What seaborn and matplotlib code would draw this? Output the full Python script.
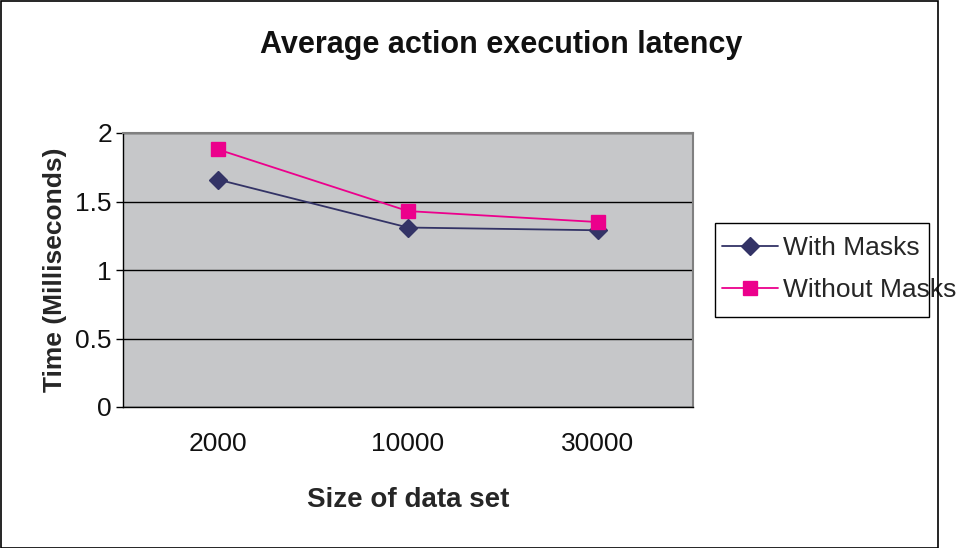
import matplotlib
matplotlib.use("Agg")
import matplotlib.pyplot as plt
from matplotlib.patches import Rectangle
import numpy as np
import pandas as pd
import seaborn as sns

# values
sizes = ["2000", "10000", "30000"]
with_masks = [1.66, 1.31, 1.29]
without_masks = [1.88, 1.43, 1.35]
series = ["With Masks", "Without Masks"]

df = pd.DataFrame({
    "size": sizes * 2,
    "time": with_masks + without_masks,
    "series": [series[0]] * 3 + [series[1]] * 3,
})

sns.set_style("white")
plt.rcParams["font.family"] = ["Liberation Sans", "DejaVu Sans"]

W, H = 961, 548
fig = plt.figure(figsize=(W / 100, H / 100), dpi=100)
ax = fig.add_axes([123 / W, 1 - 407 / H, (693 - 123) / W, (407 - 133) / H])
ax.set_facecolor("#c6c7c9")

_ = sns.pointplot(data=df, x="size", y="time", hue="series", order=sizes,
                  hue_order=series, palette=["#333366", "#ec008c"],
                  markers=["D", "s"], linestyles=["-", "-"], dodge=False,
                  errorbar=None, markersize=9.5, linewidth=1.3, ax=ax)

ax.set_ylim(0, 2)
ax.set_xlim(-0.5, 2.5)
ax.set_yticks([0, 0.5, 1, 1.5, 2])
ax.set_yticklabels(["0", "0.5", "1", "1.5", "2"])
ax.yaxis.grid(True, color="black", linewidth=1)
ax.xaxis.grid(False)
ax.set_axisbelow(True)

ax.set_xticks([-0.5, 0.5, 1.5, 2.5], minor=True)
ax.tick_params(axis="x", which="major", length=0, pad=18, labelsize=19, colors="#111111")
ax.tick_params(axis="x", which="minor", length=6, width=1, color="black", direction="out")
ax.tick_params(axis="y", length=5, width=1, color="black", direction="out", left=True,
               labelsize=19, pad=3, labelcolor="#111111")

for side in ["left", "bottom"]:
    ax.spines[side].set_color("black")
    ax.spines[side].set_linewidth(1)
for side in ["top", "right"]:
    ax.spines[side].set_color("#808080")
    ax.spines[side].set_linewidth(1.5)

ax.set_xlabel("Size of data set", fontsize=20, fontweight="bold", labelpad=22)
ax.set_ylabel("Time (Milliseconds)", fontsize=19, fontweight="bold", labelpad=6)
fig.text(501 / W, 1 - 45 / H, "Average action execution latency", fontsize=22,
         fontweight="bold", ha="center", va="center", color="#111111")

handles, labels = ax.get_legend_handles_labels()
ax.legend(handles, labels, loc="center left", bbox_to_anchor=(709 / W, 1 - 269 / H),
          bbox_transform=fig.transFigure, frameon=False, fontsize=19,
          handlelength=2.1, handletextpad=0.22, labelspacing=0.68, borderpad=0)
fig.patches.append(Rectangle((715 / W, 1 - 317 / H), 214 / W, 94 / H, fill=False,
                             edgecolor="black", linewidth=1, transform=fig.transFigure))
fig.patches.append(Rectangle((0.5 / W, 0.5 / H), 937.5 / W, (H - 1.5) / H, fill=False,
                             edgecolor="black", linewidth=1.2, transform=fig.transFigure))

fig.savefig("out.png", dpi=100, facecolor="white")
